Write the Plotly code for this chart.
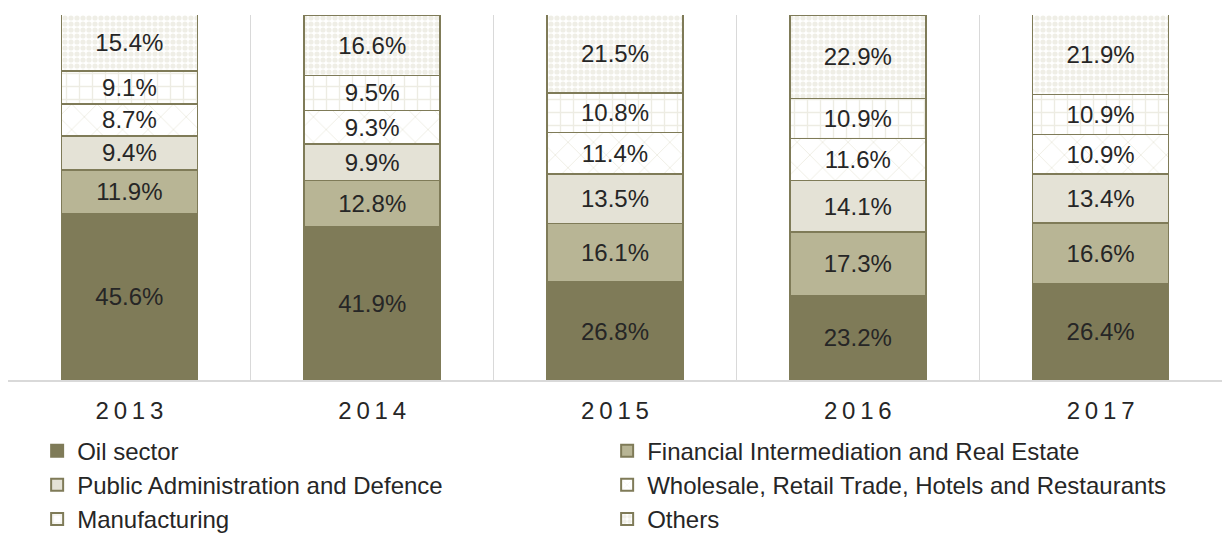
import plotly.graph_objects as go

years = ["2013", "2014", "2015", "2016", "2017"]
year_labels = ["2\u20090\u20091\u20093", "2\u20090\u20091\u20094", "2\u20090\u20091\u20095",
               "2\u20090\u20091\u20096", "2\u20090\u20091\u20097"]
oil = [45.6, 41.9, 26.8, 23.2, 26.4]
financial = [11.9, 12.8, 16.1, 17.3, 16.6]
public = [9.4, 9.9, 13.5, 14.1, 13.4]
wholesale = [8.7, 9.3, 11.4, 11.6, 10.9]
manufacturing = [9.1, 9.5, 10.8, 10.9, 10.9]
others = [15.4, 16.6, 21.5, 22.9, 21.9]

names = ["Oil sector", "Financial Intermediation and Real Estate",
         "Public Administration and Defence",
         "Wholesale, Retail Trade, Hotels and Restaurants",
         "Manufacturing", "Others"]
series = [oil, financial, public, wholesale, manufacturing, others]

edge = "#7f7b58"
styles = [
    dict(color="#7f7b58"),
    dict(color="#b8b595"),
    dict(color="#e4e2d6"),
    dict(color="white", pattern=dict(shape="x", fgcolor="#dcdac8", bgcolor="white", size=18, solidity=0.1, fillmode="overlay")),
    dict(color="white", pattern=dict(shape="+", fgcolor="#dcdac8", bgcolor="white", size=13, solidity=0.2, fillmode="overlay")),
    dict(color="white", pattern=dict(shape=".", fgcolor="#e0dece", bgcolor="white", size=6, solidity=0.6, fillmode="overlay")),
]

FONT = "Liberation Sans, Arial, sans-serif"
fig = go.Figure()
for name, vals, st in zip(names, series, styles):
    marker = dict(color=st["color"], line=dict(color=edge, width=1.5))
    if "pattern" in st:
        marker["pattern"] = st["pattern"]
    fig.add_trace(go.Bar(
        x=years, y=vals, name=name, marker=marker,
        text=[f"{v:.1f}%" for v in vals],
        textposition="inside", insidetextanchor="middle", textangle=0,
        textfont=dict(size=24, color="#262626", family=FONT),
        constraintext="none",
    ))

fig.update_layout(
    barmode="stack",
    bargap=0.44,
    width=1222, height=533,
    margin=dict(l=8, r=0, t=15, b=153, autoexpand=False),
    plot_bgcolor="white", paper_bgcolor="white",
    font=dict(family=FONT, color="#262626", size=24),
    xaxis=dict(
        type="category", tickvals=years, ticktext=year_labels,
        tickson="boundaries", showgrid=True, gridcolor="#d9d9d9", gridwidth=1,
        showline=True, linecolor="#d9d9d9", linewidth=1.5,
        ticks="", ticklabelstandoff=8, tickfont=dict(size=24, color="#262626"),
        fixedrange=True, automargin=False,
    ),
    yaxis=dict(range=[0, 100], visible=False, showgrid=False, fixedrange=True, automargin=False),
    showlegend=True,
    legend=dict(
        orientation="h", x=0.024, y=-0.133, xanchor="left", yanchor="top",
        entrywidth=525, entrywidthmode="pixels", traceorder="normal",
        font=dict(size=24, color="#262626"), itemsizing="constant",
        bgcolor="rgba(0,0,0,0)",
    ),
)

fig.write_html(
    "out.html",
    config={"displayModeBar": False},
    post_script="document.body.style.margin='0';document.body.style.overflow='hidden';",
)
